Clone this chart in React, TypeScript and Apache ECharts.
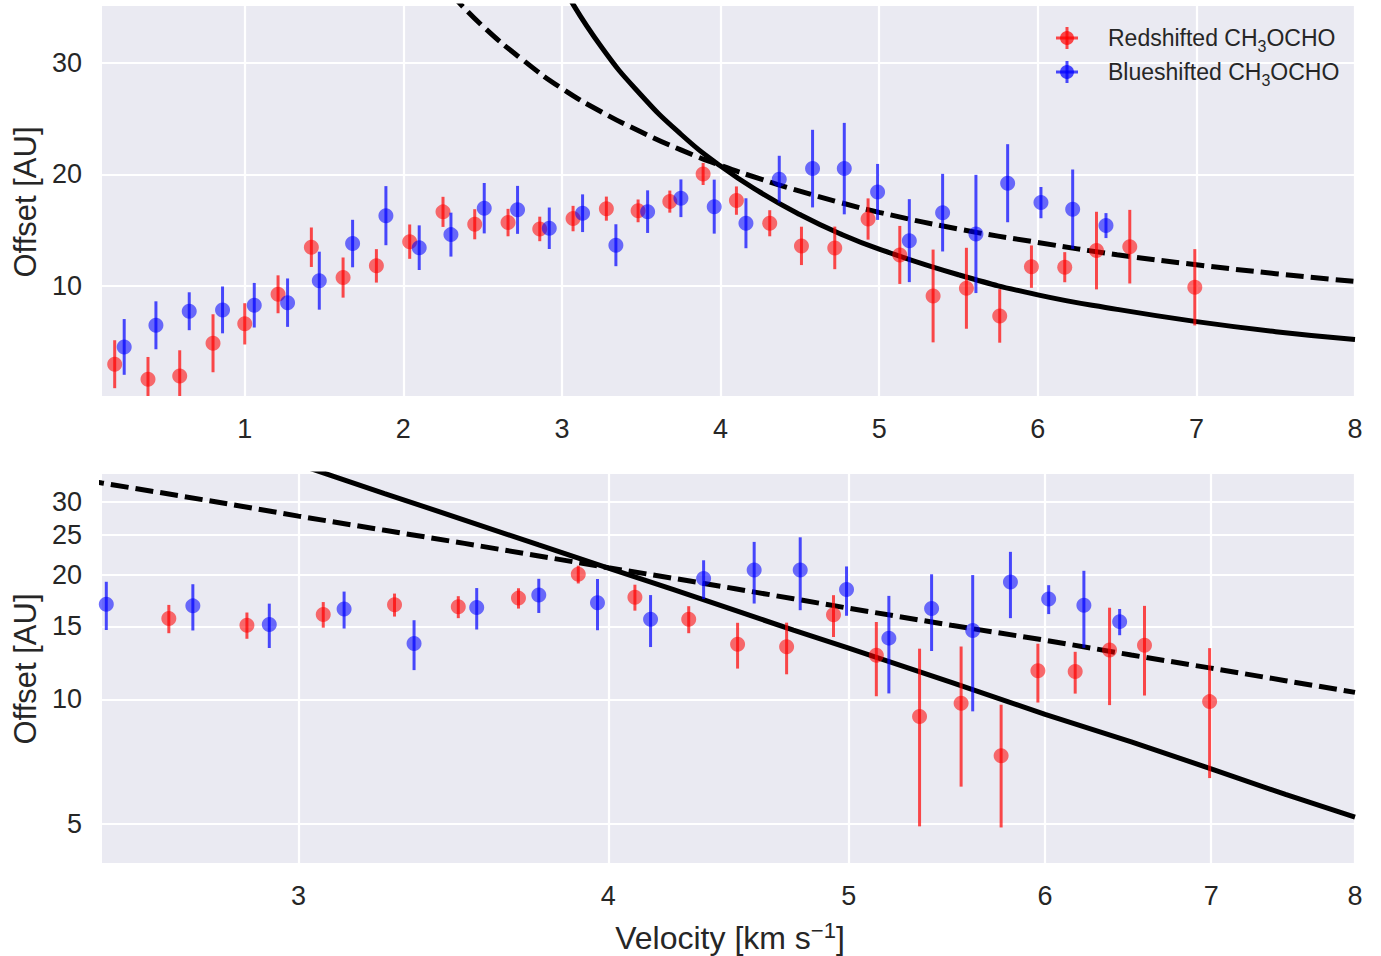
import React, { useEffect, useRef } from 'react';
import * as echarts from 'echarts';

// ---- Data ----
const redV = [0.18, 0.39, 0.59, 0.80, 1.00, 1.21, 1.42, 1.62, 1.83, 2.04, 2.25, 2.45, 2.66, 2.86, 3.07, 3.28, 3.48, 3.68, 3.89, 4.10, 4.31, 4.51, 4.72, 4.93, 5.13, 5.34, 5.55, 5.76, 5.96, 6.17, 6.37, 6.58, 6.99];
const redY = [2.98, 1.63, 1.93, 4.86, 6.6, 9.25, 13.47, 10.75, 11.8, 13.97, 16.64, 15.53, 15.68, 15.11, 16.04, 16.93, 16.73, 17.56, 20.04, 17.65, 15.62, 13.59, 13.41, 16.0, 12.78, 9.1, 9.79, 7.31, 11.73, 11.68, 13.17, 13.52, 9.88];
const redErr = [2.15, 2.0, 2.3, 2.6, 1.85, 1.7, 1.77, 1.8, 1.5, 1.54, 1.35, 1.35, 1.23, 1.1, 1.14, 1.08, 1.02, 0.99, 0.99, 1.27, 1.17, 1.72, 1.91, 1.85, 2.6, 4.16, 3.63, 2.4, 1.9, 1.35, 3.48, 3.3, 3.42];

const blueV = [0.24, 0.44, 0.65, 0.86, 1.06, 1.27, 1.47, 1.68, 1.89, 2.10, 2.30, 2.51, 2.72, 2.92, 3.13, 3.34, 3.54, 3.75, 3.96, 4.16, 4.37, 4.58, 4.78, 4.99, 5.19, 5.40, 5.61, 5.81, 6.02, 6.22, 6.43];
const blueY = [4.53, 6.47, 7.73, 7.85, 8.27, 8.5, 10.47, 13.8, 16.3, 13.43, 14.6, 16.97, 16.82, 15.17, 16.52, 13.65, 16.66, 17.86, 17.11, 15.62, 19.57, 20.52, 20.52, 18.43, 14.06, 16.57, 14.66, 19.21, 17.47, 16.88, 15.41];
const blueErr = [2.5, 2.15, 1.7, 2.1, 2.0, 2.17, 2.6, 2.13, 2.65, 2.0, 1.97, 2.26, 2.15, 1.86, 1.69, 1.88, 1.91, 1.69, 2.42, 2.24, 2.1, 3.48, 4.1, 2.51, 3.72, 3.48, 5.3, 3.5, 1.4, 3.56, 1.12];

// model curves
const dashedV = [2.3, 2.5, 2.75, 3.0, 3.25, 3.5, 3.75, 4.0, 4.25, 4.5, 4.75, 5.0, 5.5, 6.0, 6.5, 7.0, 7.5, 8.0];
const dashedY = [36.2, 33.3, 30.3, 27.7, 25.6, 23.8, 22.2, 20.8, 19.6, 18.5, 17.5, 16.6, 15.1, 13.9, 12.8, 11.9, 11.1, 10.4];
const solidV = [2.9, 3.0, 3.25, 3.5, 3.75, 4.0, 4.25, 4.5, 4.75, 5.0, 5.5, 6.0, 6.5, 7.0, 7.5, 8.0];
const solidY = [39.5, 36.9, 31.4, 27.1, 23.6, 20.75, 18.4, 16.4, 14.7, 13.3, 11.0, 9.2, 7.9, 6.8, 5.9, 5.2];

const topXTicks = [1, 2, 3, 4, 5, 6, 7, 8];
const topYTicks = [10, 20, 30];
const botXTicks = [3, 4, 5, 6, 7, 8];
const botYTicks = [5, 10, 15, 20, 25, 30];

const FONT = '"Liberation Sans", Arial, Helvetica, sans-serif';
const TXT = '#262626';
const RED = 'rgba(255,0,0,0.7)';
const BLUE = 'rgba(0,0,255,0.7)';

export default function App() {
  const ref = useRef<HTMLDivElement>(null);
  useEffect(() => {
    const chart = echarts.init(ref.current!, null, { renderer: 'svg' });

    const pack = (v: number[], y: number[], e: number[]) => v.map((x, i) => [x, y[i], e[i]]);
    const red = pack(redV, redY, redErr);
    const blue = pack(blueV, blueY, blueErr);
    const redBot = red.filter((d) => d[0] >= 2.5);
    const blueBot = blue.filter((d) => d[0] >= 2.5);
    const zip = (v: number[], y: number[]) => v.map((x, i) => [x, y[i]]);

    const fmt = (v: number) => String(Math.round(v * 100) / 100);
    const axis = (type: string, gridIndex: number, min: number, max: number, ticks: number[], margin: number) => ({
      type,
      gridIndex,
      min,
      max,
      logBase: 10,
      axisLine: { show: false },
      axisTick: { show: false, customValues: ticks },
      axisLabel: { customValues: ticks, color: TXT, fontSize: 27, fontFamily: FONT, margin, formatter: fmt },
      splitLine: { show: true, lineStyle: { color: '#ffffff', width: 2.2 } },
    });

    const errRender = (color: string) => (params: any, api: any) => {
      const x = api.value(0);
      const y = api.value(1);
      const e = api.value(2);
      const cs = params.coordSys;
      const lo = y - e > 0 ? y - e : 1e-3;
      const p1 = api.coord([x, lo]);
      const p2 = api.coord([x, y + e]);
      const top = cs.y;
      const bot = cs.y + cs.height;
      const clamp = (v: number) => (isFinite(v) ? Math.min(Math.max(v, top), bot) : bot);
      return {
        type: 'line',
        shape: { x1: p1[0], y1: clamp(p1[1]), x2: p2[0], y2: clamp(p2[1]) },
        style: { stroke: color, lineWidth: 3 },
      };
    };

    const panelSeries = (xi: number, rd: number[][], bl: number[][], smooth: boolean) => [
      {
        type: 'line', xAxisIndex: xi, yAxisIndex: xi, data: zip(dashedV, dashedY), showSymbol: false, smooth,
        clip: true, lineStyle: { color: '#000', width: 5, type: [18, 7] }, z: 2, silent: true,
      },
      {
        type: 'line', xAxisIndex: xi, yAxisIndex: xi, data: zip(solidV, solidY), showSymbol: false, smooth,
        clip: true, lineStyle: { color: '#000', width: 5 }, z: 2, silent: true,
      },
      { type: 'custom', xAxisIndex: xi, yAxisIndex: xi, data: rd, renderItem: errRender(RED), z: 3, silent: true },
      { type: 'scatter', xAxisIndex: xi, yAxisIndex: xi, data: rd.map((d) => [d[0], d[1]]), symbolSize: 15, itemStyle: { color: RED }, z: 3, silent: true },
      { type: 'custom', xAxisIndex: xi, yAxisIndex: xi, data: bl, renderItem: errRender(BLUE), z: 4, silent: true },
      { type: 'scatter', xAxisIndex: xi, yAxisIndex: xi, data: bl.map((d) => [d[0], d[1]]), symbolSize: 15, itemStyle: { color: BLUE }, z: 4, silent: true },
    ];

    const legendItem = (y: number, color: string, label: string) => [
      { type: 'line', shape: { x1: 1067, y1: y - 11, x2: 1067, y2: y + 11 }, style: { stroke: color, lineWidth: 3 }, z: 100 },
      { type: 'line', shape: { x1: 1056, y1: y, x2: 1078, y2: y }, style: { stroke: color, lineWidth: 3 }, z: 100 },
      { type: 'circle', shape: { cx: 1067, cy: y, r: 7 }, style: { fill: color }, z: 100 },
      {
        type: 'text', x: 1108, y, z: 100,
        style: {
          text: `{a|${label} CH}{s|3}{a|OCHO}`,
          verticalAlign: 'middle', align: 'left',
          rich: {
            a: { fontSize: 23, fontFamily: FONT, fill: TXT, lineHeight: 32 },
            s: { fontSize: 16, fontFamily: FONT, fill: TXT, lineHeight: 16, verticalAlign: 'bottom' },
          },
        },
      },
    ];

    chart.setOption({
      animation: false,
      backgroundColor: '#ffffff',
      grid: [
        { left: 102, top: 6, width: 1253, height: 390, show: true, backgroundColor: '#EAEAF2', borderWidth: 0 },
        { left: 102, top: 474, width: 1253, height: 389, show: true, backgroundColor: '#EAEAF2', borderWidth: 0 },
      ],
      xAxis: [
        axis('value', 0, 0.1, 8, topXTicks, 19),
        axis('log', 1, 2.5, 8, botXTicks, 19),
      ],
      yAxis: [
        axis('value', 0, 0.13, 35.1, topYTicks, 20),
        axis('log', 1, 4.03, 35, botYTicks, 20),
      ],
      series: [...panelSeries(0, red, blue, true), ...panelSeries(1, redBot, blueBot, false)],
      graphic: [
        {
          type: 'text', x: 25, y: 202, rotation: Math.PI / 2,
          style: { text: 'Offset [AU]', fontSize: 31, fontFamily: FONT, fill: TXT, align: 'center', verticalAlign: 'middle' },
        },
        {
          type: 'text', x: 25, y: 669, rotation: Math.PI / 2,
          style: { text: 'Offset [AU]', fontSize: 31, fontFamily: FONT, fill: TXT, align: 'center', verticalAlign: 'middle' },
        },
        {
          type: 'text', x: 730, y: 938,
          style: {
            text: '{a|Velocity [km s}{sup|\u22121}{a|]}',
            align: 'center', verticalAlign: 'middle',
            rich: {
              a: { fontSize: 32, fontFamily: FONT, fill: TXT, lineHeight: 38 },
              sup: { fontSize: 22, fontFamily: FONT, fill: TXT, lineHeight: 22, verticalAlign: 'top' },
            },
          },
        },
        ...legendItem(38, RED, 'Redshifted'),
        ...legendItem(72, BLUE, 'Blueshifted'),
      ],
    });

    return () => chart.dispose();
  }, []);

  return <div ref={ref} style={{ position: 'fixed', left: 0, top: 0, width: 1381, height: 956 }} />;
}
